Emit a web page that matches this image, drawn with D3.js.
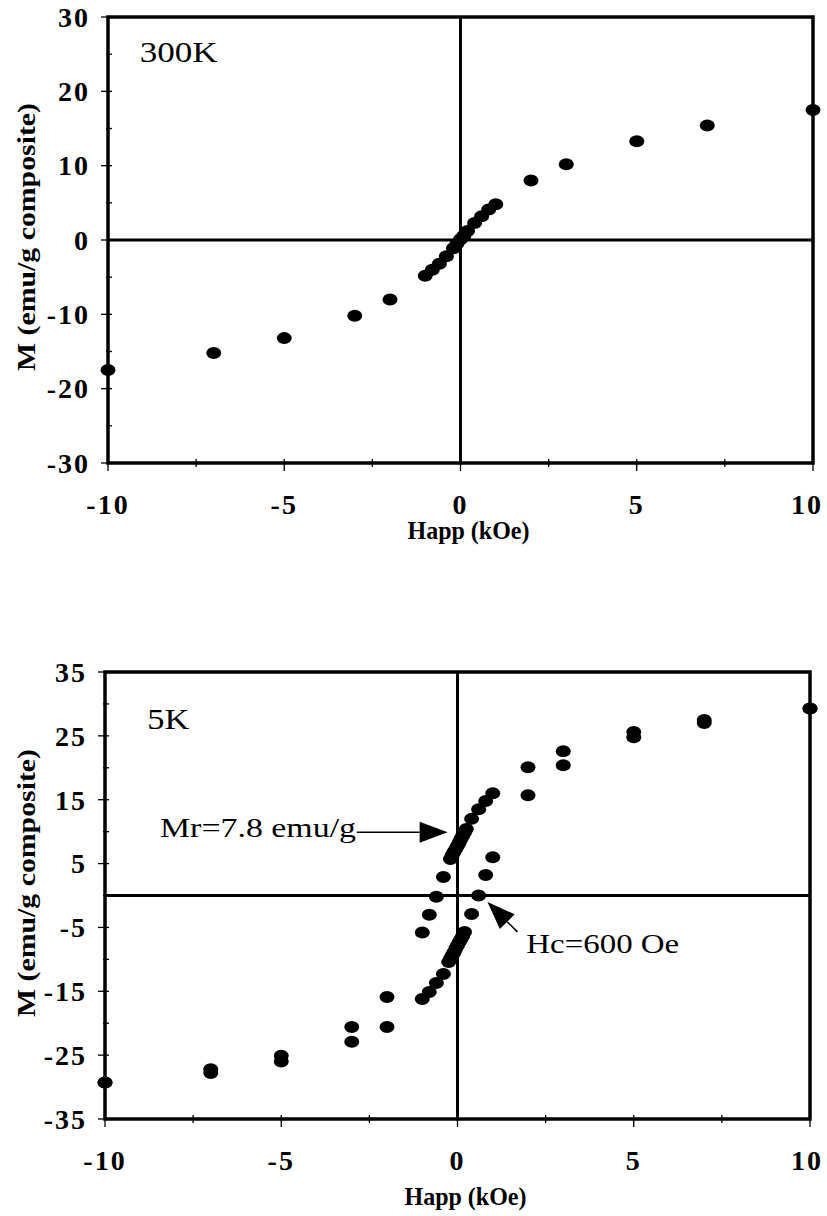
<!DOCTYPE html>
<html>
<head>
<meta charset="utf-8">
<script src="https://cdn.jsdelivr.net/npm/d3@7"></script>
<style>
  body { margin: 0; background: #fff; }
</style>
</head>
<body>
<div id="chart"></div>
<script>
// H in kOe, M in emu/g composite
const hTicks = [-10, -5, 0, 5, 10];
const m300Ticks = [-30, -20, -10, 0, 10, 20, 30];
const m5Ticks = [-35, -25, -15, -5, 5, 15, 25, 35];

const loop300K = [
  [-10, -17.5], [-7, -15.2], [-5, -13.2], [-3, -10.2], [-2, -8.0],
  [-1, -4.8], [-0.8, -4.0], [-0.6, -3.2], [-0.4, -2.2], [-0.2, -1.1], [-0.1, -0.5],
  [0, 0.1], [0.1, 0.6], [0.2, 1.2], [0.4, 2.3], [0.6, 3.2], [0.8, 4.1], [1, 4.8],
  [2, 8.0], [3, 10.2], [5, 13.3], [7, 15.4], [10, 17.5]
];

// 5K, field sweeping down from +10
const loop5KDown = [
  [10, 29.3], [7, 27.5], [5, 25.6], [3, 22.6], [2, 20.1],
  [1, 16.0], [0.8, 14.8], [0.6, 13.5], [0.4, 12.0], [0.25, 10.4],
  [0.2, 9.9], [0.15, 9.4], [0.1, 8.9], [0.05, 8.3], [0, 7.8],
  [-0.05, 7.3], [-0.1, 6.8], [-0.15, 6.3], [-0.2, 5.7],
  [-0.4, 2.9], [-0.6, -0.2], [-0.8, -3.0], [-1, -5.8],
  [-2, -15.9], [-3, -20.6], [-5, -25.1], [-7, -27.2], [-10, -29.3]
];

// 5K, field sweeping up from -10
const loop5KUp = [
  [-10, -29.3], [-7, -27.8], [-5, -26.0], [-3, -22.9], [-2, -20.6],
  [-1, -16.2], [-0.8, -15.1], [-0.6, -13.7], [-0.4, -12.3], [-0.25, -10.4],
  [-0.2, -9.9], [-0.15, -9.4], [-0.1, -8.9], [-0.05, -8.3], [0, -7.8],
  [0.05, -7.3], [0.1, -6.8], [0.15, -6.3], [0.2, -5.7],
  [0.4, -2.9], [0.6, 0.0], [0.8, 3.2], [1, 6.0],
  [2, 15.7], [3, 20.4], [5, 24.8], [7, 27.0], [10, 29.3]
];

const W = 827, H = 1216;
const FONT = "'Liberation Serif', 'Times New Roman', Times, serif";

const svg = d3.select("#chart").append("svg")
  .attr("width", W)
  .attr("height", H)
  .attr("font-family", FONT)
  .style("display", "block");

function drawPanel(p) {
  const x = d3.scaleLinear().domain([-10, 10]).range([p.left, p.right]);
  const y = d3.scaleLinear().domain(p.yDomain).range([p.bottom, p.top]);
  const g = svg.append("g");

  // zero lines
  g.append("line")
    .attr("x1", x(0)).attr("x2", x(0))
    .attr("y1", p.top).attr("y2", p.bottom)
    .attr("stroke", "#000").attr("stroke-width", 3);
  g.append("line")
    .attr("x1", p.left).attr("x2", p.right)
    .attr("y1", y(0)).attr("y2", y(0))
    .attr("stroke", "#000").attr("stroke-width", 3);

  // frame
  g.append("rect")
    .attr("x", p.left).attr("y", p.top)
    .attr("width", p.right - p.left).attr("height", p.bottom - p.top)
    .attr("fill", "none").attr("stroke", "#000").attr("stroke-width", 3.5);

  // x ticks every 2.5, labels every 5
  const xt = d3.range(-10, 10.01, 2.5);
  g.selectAll(".xtick").data(xt).enter().append("line")
    .attr("x1", d => x(d)).attr("x2", d => x(d))
    .attr("y1", d => p.bottom - 4)
    .attr("y2", d => p.bottom + (d % 5 === 0 ? 8 : 4))
    .attr("stroke", "#000").attr("stroke-width", 1.3);

  g.selectAll(".xlab").data(hTicks).enter().append("text")
    .attr("x", d => x(d))
    .attr("y", p.bottom + 41)
    .attr("dy", "0.35em")
    .attr("text-anchor", "middle")
    .style("font-size", "28px")
    .style("font-weight", "bold")
    .style("letter-spacing", "2px")
    .text(d => d)
    .each(function (d) {
      // keep the last label inside the page, as in the scan
      const w = this.getComputedTextLength();
      if (x(d) + w / 2 > W - 4) d3.select(this).attr("x", W - 4 - w / 2);
    });

  // y ticks: labelled majors plus midway minors
  const step = p.yTicks[1] - p.yTicks[0];
  const minors = p.yTicks.slice(0, -1).map(v => v + step / 2);
  g.selectAll(".ymaj").data(p.yTicks).enter().append("line")
    .attr("x1", p.left - 7).attr("x2", p.left + 4)
    .attr("y1", d => y(d)).attr("y2", d => y(d))
    .attr("stroke", "#000").attr("stroke-width", 1.3);
  g.selectAll(".ymin").data(minors).enter().append("line")
    .attr("x1", p.left - 2).attr("x2", p.left + 4)
    .attr("y1", d => y(d)).attr("y2", d => y(d))
    .attr("stroke", "#000").attr("stroke-width", 1.3);

  g.selectAll(".ylab").data(p.yTicks).enter().append("text")
    .attr("x", p.left - 18)
    .attr("y", d => y(d))
    .attr("dy", "0.35em")
    .attr("text-anchor", "end")
    .style("font-size", "28px")
    .style("font-weight", "bold")
    .style("letter-spacing", "2px")
    .text(d => d);

  // axis titles
  g.append("text")
    .attr("x", x(0) + 8)
    .attr("y", p.bottom + p.xTitleGap)
    .attr("text-anchor", "middle")
    .style("font-size", "25px")
    .style("font-weight", "bold")
    .attr("textLength", 122)
    .attr("lengthAdjust", "spacingAndGlyphs")
    .text("Happ (kOe)");

  g.append("text")
    .attr("transform", `translate(35, ${p.yTitleMid}) rotate(-90)`)
    .attr("text-anchor", "middle")
    .style("font-size", "26px")
    .style("font-weight", "bold")
    .attr("textLength", 268)
    .attr("lengthAdjust", "spacingAndGlyphs")
    .text("M (emu/g composite)");

  // temperature label
  g.append("text")
    .attr("x", x(p.tempAt[0]))
    .attr("y", y(p.tempAt[1]))
    .style("font-size", "30px")
    .attr("textLength", p.tempWidth)
    .attr("lengthAdjust", "spacingAndGlyphs")
    .text(p.temp);

  // data points
  p.series.forEach(s => {
    g.selectAll(null).data(s).enter().append("ellipse")
      .attr("cx", d => x(d[0]))
      .attr("cy", d => y(d[1]))
      .attr("rx", 7.5)
      .attr("ry", 6)
      .attr("fill", "#000");
  });

  return { x, y, g };
}

const panel300 = drawPanel({
  left: 108, right: 813, top: 17, bottom: 463,
  yDomain: [-30, 30], yTicks: m300Ticks,
  xTitleGap: 76, yTitleMid: 237,
  temp: "300K", tempAt: [-9.1, 24.0], tempWidth: 78,
  series: [loop300K]
});

const panel5 = drawPanel({
  left: 105, right: 810, top: 672, bottom: 1119,
  yDomain: [-35, 35], yTicks: m5Ticks,
  xTitleGap: 86, yTitleMid: 883,
  temp: "5K", tempAt: [-8.8, 26.0], tempWidth: 42,
  series: [loop5KDown, loop5KUp]
});

// annotations on the 5K panel, in data units
const annotations = [
  { text: "Mr=7.8 emu/g", textAt: [-8.44, 9.1], textWidth: 196, anchor: "start",
    from: [-2.86, 9.9], to: [-0.28, 9.9] },
  { text: "Hc=600 Oe", textAt: [1.95, -9.0], textWidth: 153, anchor: "start",
    from: [1.7, -5.7], to: [0.85, -1.0] }
];

const ax = panel5.x, ay = panel5.y;
annotations.forEach(a => {
  const x1 = ax(a.from[0]), y1 = ay(a.from[1]);
  const x2 = ax(a.to[0]), y2 = ay(a.to[1]);
  const ang = Math.atan2(y2 - y1, x2 - x1);
  const len = 28, half = 10.5;
  const bx = x2 - len * Math.cos(ang), by = y2 - len * Math.sin(ang);
  const nx = -Math.sin(ang), ny = Math.cos(ang);

  panel5.g.append("line")
    .attr("x1", x1).attr("y1", y1)
    .attr("x2", bx).attr("y2", by)
    .attr("stroke", "#000").attr("stroke-width", 1.5);

  panel5.g.append("path")
    .attr("d", `M${x2},${y2}L${bx + nx * half},${by + ny * half}L${bx - nx * half},${by - ny * half}Z`)
    .attr("fill", "#000");

  panel5.g.append("text")
    .attr("x", ax(a.textAt[0]))
    .attr("y", ay(a.textAt[1]))
    .attr("text-anchor", a.anchor)
    .style("font-size", "28px")
    .attr("textLength", a.textWidth)
    .attr("lengthAdjust", "spacingAndGlyphs")
    .text(a.text);
});
</script>
</body>
</html>
